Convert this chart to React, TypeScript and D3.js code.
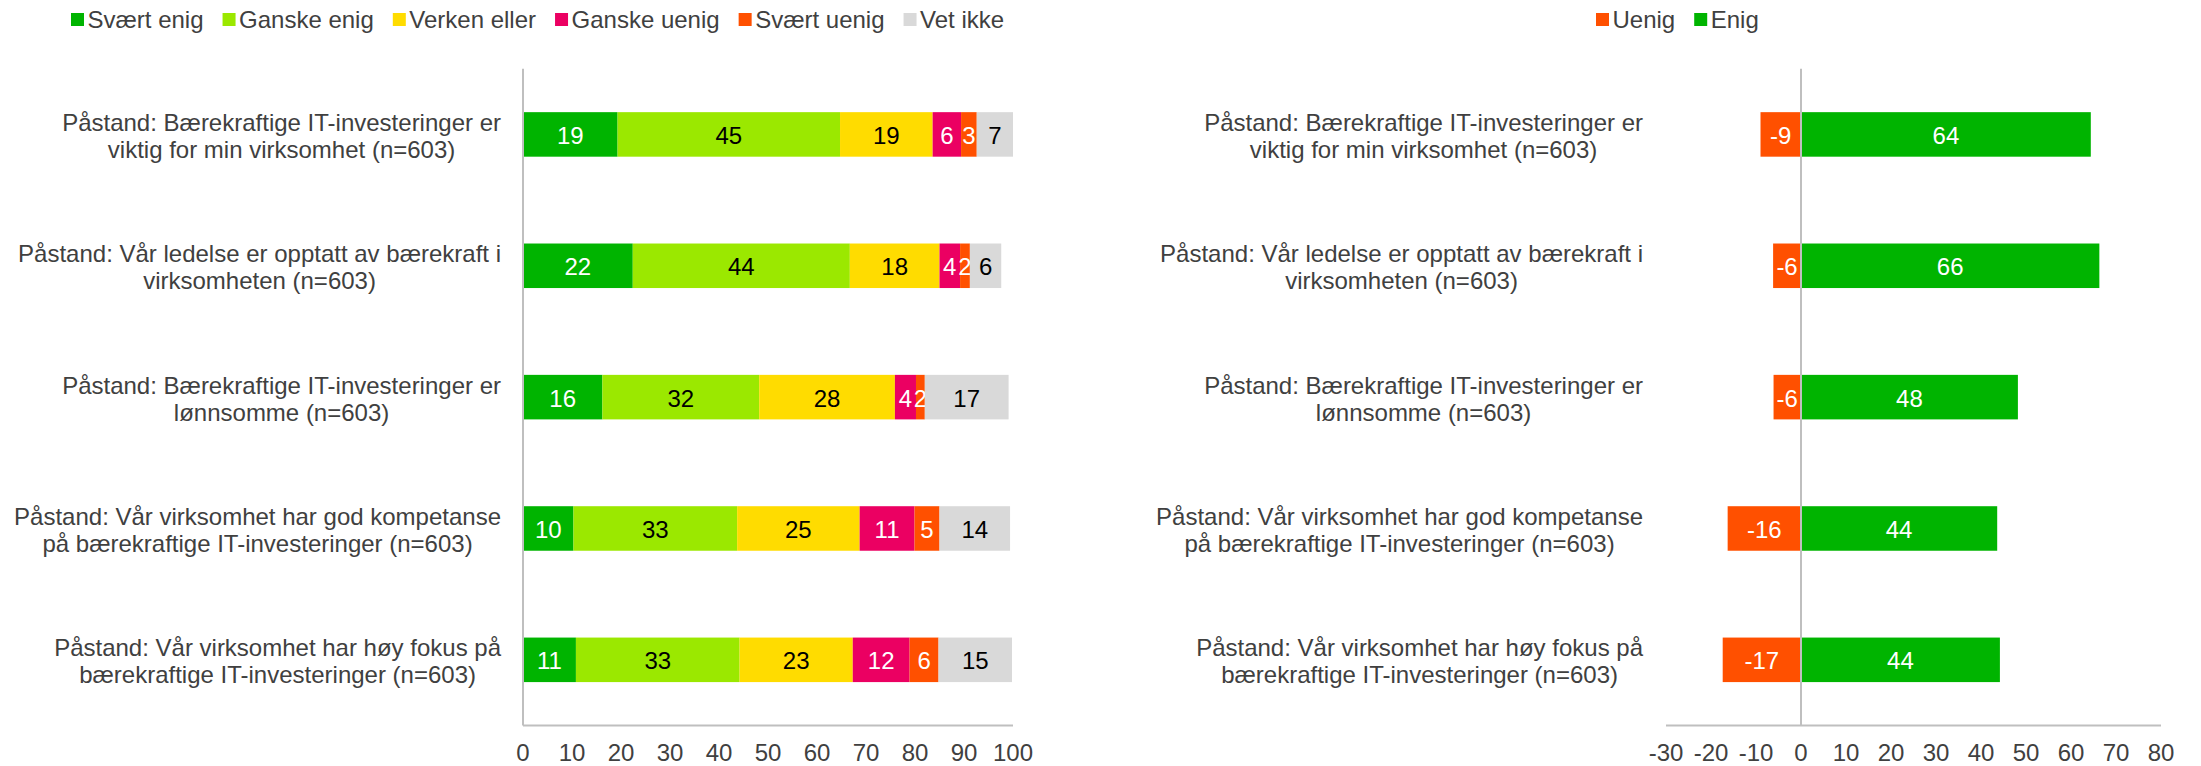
import React from "react";
import * as d3 from "d3";

const categories = [
  "Påstand: Bærekraftige IT-investeringer er\nviktig for min virksomhet (n=603)",
  "Påstand: Vår ledelse er opptatt av bærekraft i\nvirksomheten (n=603)",
  "Påstand: Bærekraftige IT-investeringer er\nlønnsomme (n=603)",
  "Påstand: Vår virksomhet har god kompetanse\npå bærekraftige IT-investeringer (n=603)",
  "Påstand: Vår virksomhet har høy fokus på\nbærekraftige IT-investeringer (n=603)",
];

const seriesNames = ["Svært enig", "Ganske enig", "Verken eller", "Ganske uenig", "Svært uenig", "Vet ikke"];
const seriesColors = ["#00B400", "#9BE800", "#FFDC00", "#EB0062", "#FF5000", "#D9D9D9"];
const seriesLabelColors = ["#FFFFFF", "#000000", "#000000", "#FFFFFF", "#FFFFFF", "#000000"];

const svaertEnig = [19.3, 22.4, 16.2, 10.3, 10.8];
const ganskeEnig = [45.4, 44.3, 32.0, 33.4, 33.4];
const verkenEller = [18.9, 18.3, 27.7, 25.0, 23.1];
const ganskeUenig = [5.8, 4.2, 4.3, 11.2, 11.6];
const svaertUenig = [3.2, 2.0, 1.8, 5.1, 5.9];
const vetIkke = [7.4, 6.4, 17.1, 14.4, 15.0];
const stackSeries = [svaertEnig, ganskeEnig, verkenEller, ganskeUenig, svaertUenig, vetIkke];

const diffNames = ["Uenig", "Enig"];
const diffColors = ["#FF5000", "#00B400"];
const uenig = [-9.0, -6.2, -6.1, -16.3, -17.4];
const enig = [64.4, 66.3, 48.2, 43.6, 44.2];

const leftTicks = [0, 10, 20, 30, 40, 50, 60, 70, 80, 90, 100];
const rightTicks = [-30, -20, -10, 0, 10, 20, 30, 40, 50, 60, 70, 80];

const W = 2201;
const H = 766;
const FONT = "'Liberation Sans', Arial, sans-serif";
const TEXT = "#404040";
const AXIS = "#BFBFBF";

let ctx: CanvasRenderingContext2D | null = null;
function measure(text: string, size: number) {
  if (!ctx) ctx = document.createElement("canvas").getContext("2d");
  if (!ctx) return text.length * size * 0.5;
  ctx.font = `${size}px 'Liberation Sans', Arial, sans-serif`;
  return ctx.measureText(text).width;
}

const plotTop = 68.75;
const plotBottom = 725.5;
const catSize = 24;
const lineH = 27;
const dataSize = 24;
const tickSize = 24;
const legendSize = 24;

function CategoryLabels({ y, rightEdge }: { y: d3.ScaleBand<number>; rightEdge: number }) {
  return (
    <g>
      {categories.map((c, i) => {
        const lines = c.split("\n");
        const maxW = Math.max(...lines.map((l) => measure(l, catSize)));
        const cx = rightEdge - maxW / 2;
        const cy = (y(i) as number) + y.bandwidth() / 2 + 1.5;
        return (
          <text key={i} x={cx} textAnchor="middle" fontSize={catSize} fill={TEXT} fontFamily={FONT}>
            {lines.map((l, j) => (
              <tspan key={j} x={cx} y={cy + (j - (lines.length - 1) / 2) * lineH} dominantBaseline="central">
                {l}
              </tspan>
            ))}
          </text>
        );
      })}
    </g>
  );
}

function Legend({ names, colors, startX }: { names: string[]; colors: string[]; startX: number }) {
  let x = startX;
  const items = names.map((n, i) => {
    const it = { n, c: colors[i], x };
    x += 13 + 3.5 + measure(n, legendSize) + 19;
    return it;
  });
  return (
    <g>
      {items.map((it, i) => (
        <g key={i}>
          <rect x={it.x} y={13} width={13} height={13} fill={it.c} />
          <text x={it.x + 16.5} y={19.5} dominantBaseline="central" fontSize={legendSize} fill={TEXT} fontFamily={FONT}>
            {it.n}
          </text>
        </g>
      ))}
    </g>
  );
}

export default function App() {
  const idx = categories.map((_, i) => i);
  const y = d3.scaleBand<number>().domain(idx).range([plotTop, plotBottom]).paddingInner(0.661).paddingOuter(0.3305);

  // Left chart
  const xL = d3.scaleLinear().domain([0, 100]).range([523, 1013]);
  const stacked = idx.map((i) => {
    let acc = 0;
    return stackSeries.map((s, k) => {
      const x0 = acc;
      acc += s[i];
      return { k, x0, x1: acc, v: s[i] };
    });
  });

  // Right chart
  const xR = d3.scaleLinear().domain([-30, 80]).range([1666, 2161]);

  return (
    <svg width={W} height={H} style={{ position: "absolute", left: 0, top: 0, background: "#fff" }} fontFamily={FONT}>
      <rect width={W} height={H} fill="#fff" />
      <Legend names={seriesNames} colors={seriesColors} startX={71} />
      <Legend names={diffNames} colors={diffColors} startX={1596} />

      {/* Left chart */}
      <CategoryLabels y={y} rightEdge={501} />
      {stacked.map((row, i) =>
        row.map((seg) => (
          <g key={`${i}-${seg.k}`}>
            <rect
              x={xL(seg.x0)}
              y={y(i)}
              width={xL(seg.x1) - xL(seg.x0)}
              height={y.bandwidth()}
              fill={seriesColors[seg.k]}
            />
            <text
              x={(xL(seg.x0) + xL(seg.x1)) / 2}
              y={(y(i) as number) + y.bandwidth() / 2 + 1}
              textAnchor="middle"
              dominantBaseline="central"
              fontSize={dataSize}
              fill={seriesLabelColors[seg.k]}
            >
              {Math.round(seg.v)}
            </text>
          </g>
        ))
      )}
      <line x1={xL(0)} x2={xL(0)} y1={plotTop} y2={plotBottom} stroke={AXIS} strokeWidth={2} />
      <line x1={xL(0)} x2={xL(100)} y1={plotBottom} y2={plotBottom} stroke={AXIS} strokeWidth={2} />
      {leftTicks.map((t) => (
        <text key={t} x={xL(t)} y={752} textAnchor="middle" dominantBaseline="central" fontSize={tickSize} fill={TEXT}>
          {t}
        </text>
      ))}

      {/* Right chart */}
      <CategoryLabels y={y} rightEdge={1643} />
      {idx.map((i) => (
        <g key={`r${i}`}>
          <rect x={xR(uenig[i])} y={y(i)} width={xR(0) - xR(uenig[i])} height={y.bandwidth()} fill={diffColors[0]} />
          <rect x={xR(0)} y={y(i)} width={xR(enig[i]) - xR(0)} height={y.bandwidth()} fill={diffColors[1]} />
          <text
            x={(xR(uenig[i]) + xR(0)) / 2}
            y={(y(i) as number) + y.bandwidth() / 2 + 1}
            textAnchor="middle"
            dominantBaseline="central"
            fontSize={dataSize}
            fill="#FFFFFF"
          >
            {Math.round(uenig[i])}
          </text>
          <text
            x={(xR(enig[i]) + xR(0)) / 2}
            y={(y(i) as number) + y.bandwidth() / 2 + 1}
            textAnchor="middle"
            dominantBaseline="central"
            fontSize={dataSize}
            fill="#FFFFFF"
          >
            {Math.round(enig[i])}
          </text>
        </g>
      ))}
      <line x1={xR(0)} x2={xR(0)} y1={plotTop} y2={plotBottom} stroke={AXIS} strokeWidth={2} />
      <line x1={xR(-30)} x2={xR(80)} y1={plotBottom} y2={plotBottom} stroke={AXIS} strokeWidth={2} />
      {rightTicks.map((t) => (
        <text key={t} x={xR(t)} y={752} textAnchor="middle" dominantBaseline="central" fontSize={tickSize} fill={TEXT}>
          {t}
        </text>
      ))}
    </svg>
  );
}
